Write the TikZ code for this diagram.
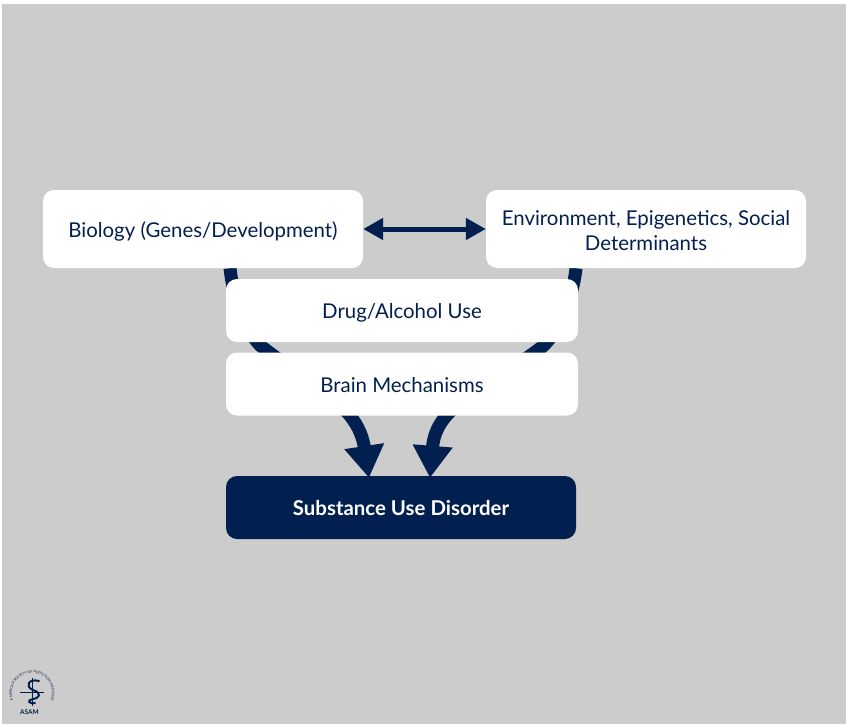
\documentclass[tikz,border=0pt]{standalone}
\usepackage{fontspec}
\setmainfont{Lato}
\usetikzlibrary{arrows.meta}
\usetikzlibrary{decorations.text}
\definecolor{navy}{HTML}{02204F}
\definecolor{panel}{HTML}{CCCCCC}
\pgfdeclarelayer{back}
\pgfdeclarelayer{mid}
\pgfsetlayers{back,mid,main}
\tikzset{
	boxnode/.style = {
		align=center,
		inner sep=0pt,
		rounded corners=11pt,
		text centered,
		font=\fontsize{20.4}{25}\selectfont,
		anchor=center
	},
	node_white/.style = {
		boxnode,
		fill=white,
		text=navy
	},
	node_top/.style = {
		node_white,
		minimum width=320pt,
		minimum height=78pt
	},
	node_mid/.style = {
		node_white,
		minimum width=352pt,
		minimum height=63pt
	},
	node_dark/.style = {
		boxnode,
		fill=navy,
		text=white,
		font=\fontsize{20.4}{25}\selectfont\bfseries,
		minimum width=350pt,
		minimum height=63pt
	},
	bigarrow/.style = {
		navy,
		line width=13pt,
		-{Triangle[width=38pt,length=32pt]}
	},
	linkarrow/.style = {
		navy,
		line width=5pt,
		{Triangle[width=21pt,length=20pt]}-{Triangle[width=21pt,length=20pt]}
	},
	sealline/.style = {
		navy,
		line width=0.5pt
	},
}

\begin{document}
\begin{tikzpicture}[x=1pt,y=-1pt]
\useasboundingbox (0,0) rectangle (846,725);
\begin{pgfonlayer}{back}
	\fill[white] (0,0) rectangle (846,725);
	\fill[panel] (2,4) rectangle (846,724);
\end{pgfonlayer}

% boxes
\node [node_top, text height=21pt] (biology) at (203,229) {Biology (Genes/Development)};
\node [node_top, text height=44pt] (environment) at (646,229) {Environment, Epigenetics, Social\\Determinants};
\node [node_mid, text height=20pt] (druguse) at (402,310.5) {Drug/Alcohol Use};
\node [node_mid, text height=17.5pt] (brain) at (402,384) {Brain Mechanisms};
\node [node_dark, text height=16.5pt] (disorder) at (401,507.5) {Substance Use Disorder};

% arrows go behind the boxes
\begin{pgfonlayer}{mid}
	\draw [linkarrow] (biology.east) -- (environment.west);
	\draw [bigarrow] ([xshift=27pt]biology.south) .. controls (234,305) and (250,337) .. (262,347)
		.. controls (314,387) and (358,405) .. ([xshift=-32pt,yshift=-2pt]disorder.north);
	\draw [bigarrow] ([xshift=-70pt]environment.south) .. controls (572,305) and (554,337) .. (542,347)
		.. controls (482,392) and (436,405) .. ([xshift=29pt,yshift=-2pt]disorder.north);
\end{pgfonlayer}

% seal
\coordinate (sealcentre) at (32,693);
\path [decorate, decoration={text along path, text align=center, text color=navy,
	text={|\fontsize{3.5}{4}\selectfont|AMERICAN SOCIETY OF ADDICTION MEDICINE}}]
	(16,705) arc[start angle=217, end angle=-37, radius=20pt];
\draw [navy, line width=1pt] (32.5,678) -- (32.5,706);
\draw [sealline] (20,692.7) -- (44,692.7);
\draw [navy, line width=2pt, line cap=round] (39,681) .. controls (28,678) and (25,687) .. (33,690)
	.. controls (42,693) and (40,698) .. (33,699) .. controls (27,700) and (28,704) .. (35,703);
\node [inner sep=0pt, text=navy, font=\fontsize{6.5}{7}\selectfont\bfseries] (sealname) at (29.5,712) {ASAM};
\end{tikzpicture}
\end{document}
